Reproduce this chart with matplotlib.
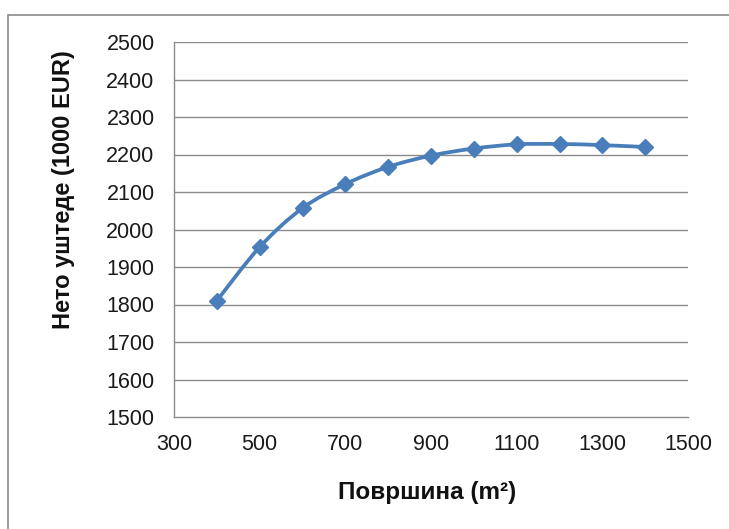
import numpy as np
import matplotlib.pyplot as plt
from matplotlib.path import Path
from matplotlib.patches import PathPatch, Rectangle

plt.rcParams['font.family'] = ['Liberation Sans', 'DejaVu Sans']

# data
area = [400, 500, 600, 700, 800, 900, 1000, 1100, 1200, 1300, 1400]
savings = [1810, 1953, 2057, 2121, 2167, 2197, 2216, 2227, 2228, 2225, 2220]

x_ticks = [300, 500, 700, 900, 1100, 1300, 1500]
y_ticks = [1500, 1600, 1700, 1800, 1900, 2000, 2100, 2200, 2300, 2400, 2500]

LINE_COLOR = '#4a7ebb'
GRID_COLOR = '#8a8a8a'


def smooth_path(xs, ys, tension=1 / 6):
    # Excel-like smoothed line: Catmull-Rom segments as cubic Beziers
    xs = np.asarray(xs, float)
    ys = np.asarray(ys, float)
    n = len(xs)
    verts = [(xs[0], ys[0])]
    codes = [Path.MOVETO]
    for i in range(n - 1):
        p0 = (xs[max(i - 1, 0)], ys[max(i - 1, 0)])
        p1 = (xs[i], ys[i])
        p2 = (xs[i + 1], ys[i + 1])
        p3 = (xs[min(i + 2, n - 1)], ys[min(i + 2, n - 1)])
        c1 = (p1[0] + (p2[0] - p0[0]) * tension, p1[1] + (p2[1] - p0[1]) * tension)
        c2 = (p2[0] - (p3[0] - p1[0]) * tension, p2[1] - (p3[1] - p1[1]) * tension)
        verts += [c1, c2, p2]
        codes += [Path.CURVE4] * 3
    return Path(verts, codes)


fig = plt.figure(figsize=(7.29, 5.29), dpi=100)
# outer chart border (runs off the right and bottom edges like the original)
fig.patches.append(Rectangle((8 / 729, -0.05), 1.1, (529 - 15) / 529 + 0.05,
                             transform=fig.transFigure, fill=False,
                             edgecolor='#8a8a8a', lw=1.2))

ax = fig.add_axes([174 / 729, 1 - 417 / 529, (688 - 174) / 729, (417 - 42) / 529])
ax.set_xlim(300, 1500)
ax.set_ylim(1500, 2500)
ax.set_xticks(x_ticks)
ax.set_yticks(y_ticks)
ax.tick_params(axis='both', length=0, labelsize=15.5, colors='#1a1a1a')
ax.tick_params(axis='x', pad=12)
ax.tick_params(axis='y', pad=14)

for y in y_ticks[1:]:
    ax.axhline(y, color=GRID_COLOR, lw=1.0, zorder=1)
for side in ['top', 'right']:
    ax.spines[side].set_visible(False)
ax.spines['left'].set_color(GRID_COLOR)
ax.spines['bottom'].set_color(GRID_COLOR)
ax.spines['left'].set_linewidth(1.0)
ax.spines['bottom'].set_linewidth(1.0)

ax.add_patch(PathPatch(smooth_path(area, savings), fill=False,
                       edgecolor=LINE_COLOR, lw=2.7, zorder=3))
ax.plot(area, savings, linestyle='none', marker='D', ms=8.5,
        color=LINE_COLOR, zorder=4)

fig.text(427 / 729, 1 - 492 / 529, 'Површина (m²)', fontsize=17.5,
         fontweight='bold', ha='center', va='center', color='#111111')
fig.text(64 / 729, 1 - 190 / 529, 'Нето уштеде (1000 EUR)', fontsize=17,
         fontweight='bold', ha='center', va='center', rotation=90,
         color='#111111')

plt.savefig('out.png', dpi=100)
